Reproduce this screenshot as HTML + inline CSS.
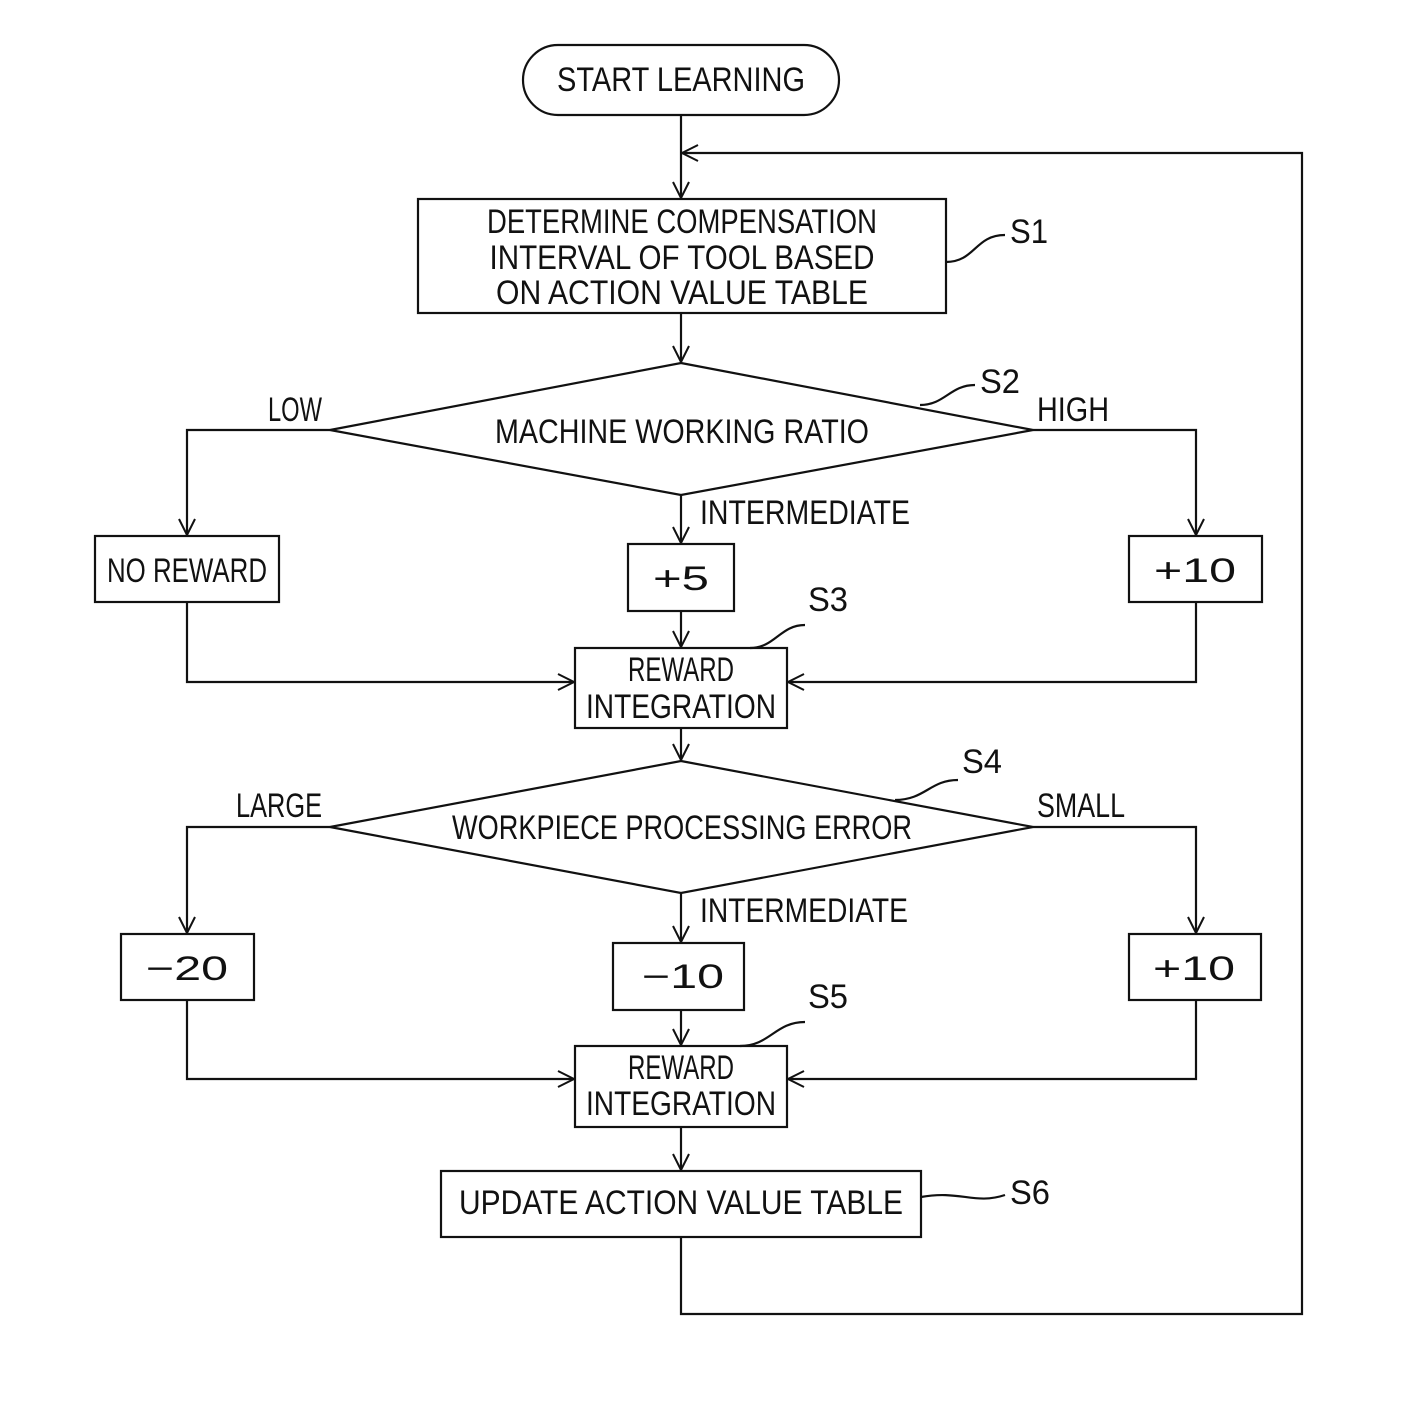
<!DOCTYPE html>
<html><head><meta charset="utf-8"><style>
html,body{margin:0;padding:0;background:#fff}
svg{display:block}
text{font-family:"Liberation Sans",sans-serif;font-size:34px;fill:#111;text-anchor:middle;dominant-baseline:central}
</style></head><body>
<svg width="1412" height="1406" viewBox="0 0 1412 1406" xmlns="http://www.w3.org/2000/svg">
<defs><marker id="a" markerWidth="20" markerHeight="20" refX="18" refY="10" orient="auto" markerUnits="userSpaceOnUse">
<path d="M2,2 L18,10 L2,18" fill="none" stroke="#111" stroke-width="2"/></marker></defs>
<g fill="none" stroke="#111" stroke-width="2.2">
<rect x="523" y="45" width="316" height="70" rx="35"/>
<line x1="681" y1="115" x2="681" y2="198" marker-end="url(#a)"/>
<polyline points="681,1237 681,1314 1302,1314 1302,153 682,153" marker-end="url(#a)"/>
<rect x="418" y="199" width="528" height="114"/>
<path d="M946,262 C975,262 975,235 1005,235"/>
<line x1="681" y1="313" x2="681" y2="362" marker-end="url(#a)"/>
<polygon points="681,363 1033,430 681,495 330,430"/>
<path d="M920,405 C945,405 950,385 975,385"/>
<polyline points="330,430 187,430 187,535" marker-end="url(#a)"/>
<polyline points="1033,430 1196,430 1196,535" marker-end="url(#a)"/>
<line x1="681" y1="495" x2="681" y2="543" marker-end="url(#a)"/>
<rect x="95" y="536" width="184" height="66"/>
<rect x="628" y="544" width="106" height="67"/>
<rect x="1129" y="536" width="133" height="66"/>
<polyline points="187,602 187,682 574,682" marker-end="url(#a)"/>
<line x1="681" y1="611" x2="681" y2="647" marker-end="url(#a)"/>
<polyline points="1196,602 1196,682 788,682" marker-end="url(#a)"/>
<rect x="575" y="648" width="212" height="80"/>
<path d="M750,648 C775,648 780,625 805,625"/>
<line x1="681" y1="728" x2="681" y2="760" marker-end="url(#a)"/>
<polygon points="681,761 1033,827 681,893 330,827"/>
<path d="M895,800 C925,800 930,780 958,780"/>
<polyline points="330,827 187,827 187,933" marker-end="url(#a)"/>
<polyline points="1033,827 1196,827 1196,933" marker-end="url(#a)"/>
<line x1="681" y1="893" x2="681" y2="942" marker-end="url(#a)"/>
<rect x="121" y="934" width="133" height="66"/>
<rect x="613" y="943" width="131" height="67"/>
<rect x="1129" y="934" width="132" height="66"/>
<polyline points="187,1000 187,1079 574,1079" marker-end="url(#a)"/>
<line x1="681" y1="1010" x2="681" y2="1045" marker-end="url(#a)"/>
<polyline points="1196,1000 1196,1079 788,1079" marker-end="url(#a)"/>
<rect x="575" y="1046" width="212" height="81"/>
<path d="M740,1046 C770,1046 775,1022 805,1022"/>
<line x1="681" y1="1127" x2="681" y2="1170" marker-end="url(#a)"/>
<rect x="441" y="1171" width="480" height="66"/>
<path d="M921,1197 C960,1190 975,1205 1005,1195"/>
</g>
<text x="681" y="80" textLength="248" lengthAdjust="spacingAndGlyphs">START LEARNING</text>
<text x="682" y="222" textLength="390" lengthAdjust="spacingAndGlyphs">DETERMINE COMPENSATION</text>
<text x="682" y="258" textLength="385" lengthAdjust="spacingAndGlyphs">INTERVAL OF TOOL BASED</text>
<text x="682" y="293" textLength="372" lengthAdjust="spacingAndGlyphs">ON ACTION VALUE TABLE</text>
<text x="1029" y="232" textLength="38" lengthAdjust="spacingAndGlyphs">S1</text>
<text x="682" y="432" textLength="374" lengthAdjust="spacingAndGlyphs">MACHINE WORKING RATIO</text>
<text x="1000" y="382" textLength="40" lengthAdjust="spacingAndGlyphs">S2</text>
<text x="295" y="410" textLength="54" lengthAdjust="spacingAndGlyphs">LOW</text>
<text x="1073" y="410" textLength="72" lengthAdjust="spacingAndGlyphs">HIGH</text>
<text x="805" y="513" textLength="210" lengthAdjust="spacingAndGlyphs">INTERMEDIATE</text>
<text x="187" y="571" textLength="160" lengthAdjust="spacingAndGlyphs">NO REWARD</text>
<text x="681" y="579" textLength="56" lengthAdjust="spacingAndGlyphs">+5</text>
<text x="1195" y="571" textLength="82" lengthAdjust="spacingAndGlyphs">+10</text>
<text x="681" y="670" textLength="106" lengthAdjust="spacingAndGlyphs">REWARD</text>
<text x="681" y="707" textLength="190" lengthAdjust="spacingAndGlyphs">INTEGRATION</text>
<text x="828" y="600" textLength="40" lengthAdjust="spacingAndGlyphs">S3</text>
<text x="682" y="828" textLength="460" lengthAdjust="spacingAndGlyphs">WORKPIECE PROCESSING ERROR</text>
<text x="982" y="762" textLength="40" lengthAdjust="spacingAndGlyphs">S4</text>
<text x="279" y="806" textLength="86" lengthAdjust="spacingAndGlyphs">LARGE</text>
<text x="1081" y="806" textLength="88" lengthAdjust="spacingAndGlyphs">SMALL</text>
<text x="804" y="911" textLength="208" lengthAdjust="spacingAndGlyphs">INTERMEDIATE</text>
<text x="187" y="969" textLength="82" lengthAdjust="spacingAndGlyphs">−20</text>
<text x="683" y="977" textLength="82" lengthAdjust="spacingAndGlyphs">−10</text>
<text x="1194" y="969" textLength="82" lengthAdjust="spacingAndGlyphs">+10</text>
<text x="681" y="1068" textLength="106" lengthAdjust="spacingAndGlyphs">REWARD</text>
<text x="681" y="1104" textLength="190" lengthAdjust="spacingAndGlyphs">INTEGRATION</text>
<text x="828" y="997" textLength="40" lengthAdjust="spacingAndGlyphs">S5</text>
<text x="681" y="1203" textLength="444" lengthAdjust="spacingAndGlyphs">UPDATE ACTION VALUE TABLE</text>
<text x="1030" y="1193" textLength="40" lengthAdjust="spacingAndGlyphs">S6</text>
</svg>
</body></html>
